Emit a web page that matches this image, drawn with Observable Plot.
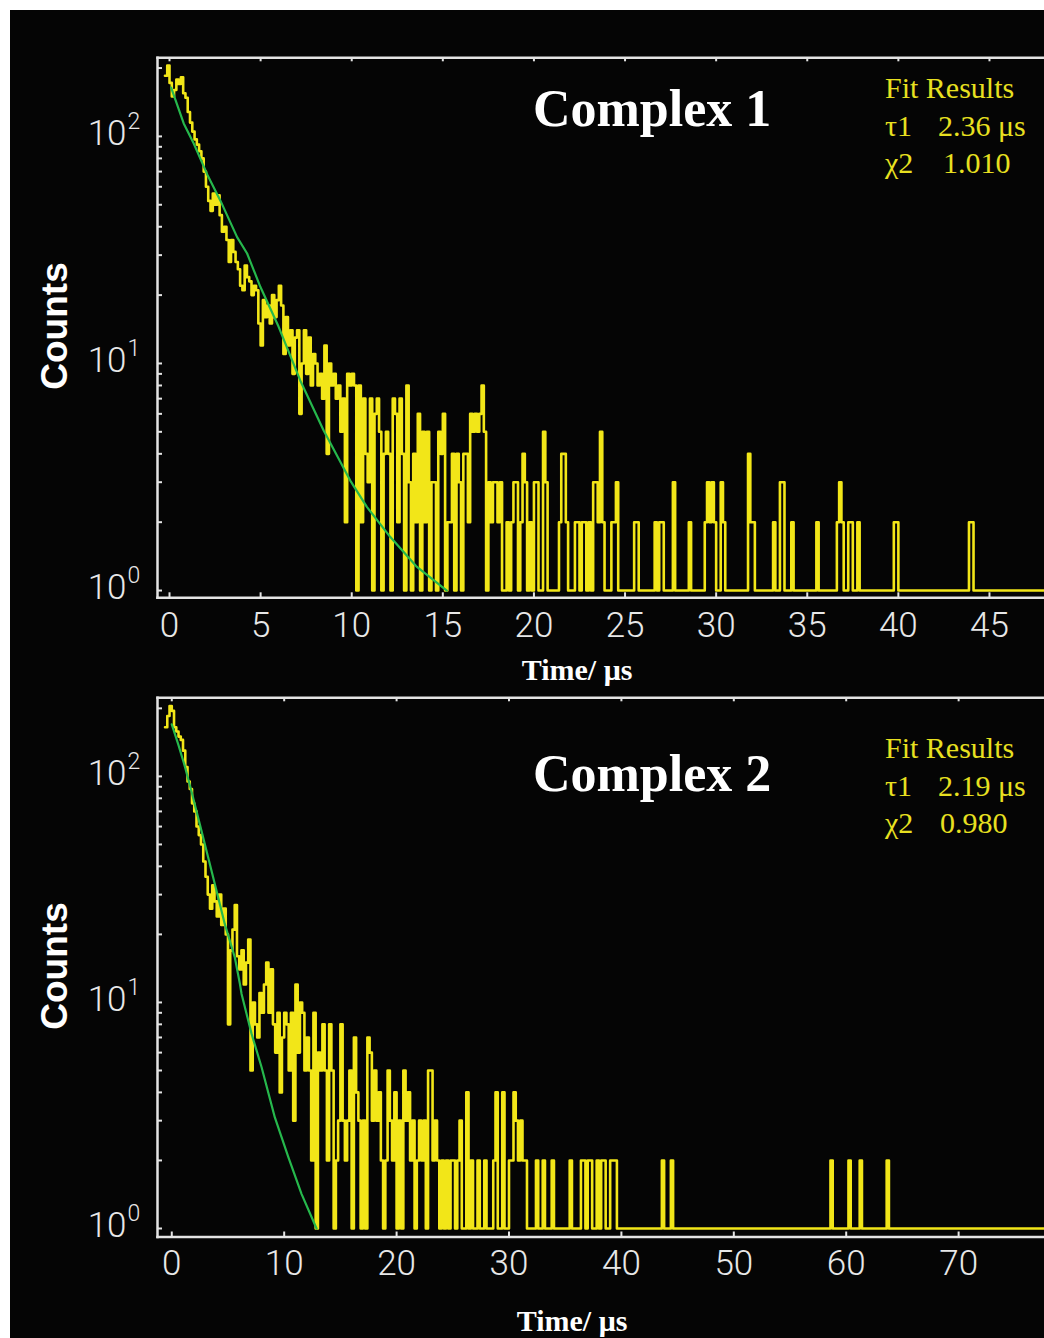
<!DOCTYPE html>
<html><head><meta charset="utf-8">
<script src="https://cdn.jsdelivr.net/npm/d3@7"></script>
<script src="https://cdn.jsdelivr.net/npm/@observablehq/plot@0.6"></script>
<style>
html,body{margin:0;padding:0;background:#fff;}
#page{position:relative;width:1044px;height:1338px;background:#fff;overflow:hidden;}
#bg{position:absolute;left:10px;top:10px;width:1034px;height:1328px;background:#050505;}
.panel{position:absolute;left:0;}
#ann{position:absolute;left:0;top:0;}
</style></head><body>
<div id="page"><div id="bg"></div><div id="p1" class="panel" style="top:0px"></div><div id="p2" class="panel" style="top:650px"></div><svg id="ann" width="1044" height="1338"></svg></div>
<script>
// ---------- Complex 1 decay histogram (counts per 0.125 µs bin, starting at -0.25 µs)
const p1Start = -0.25, p1Bin = 0.125;
const p1Early = [
  185, 205,
  172, 150, 160, 178, 170, 182, 155, 148,
  128, 115, 105, 97, 92, 86, 80, 70,
  60, 52, 47, 56, 50, 55, 45, 38,
  40, 35, 28, 35, 31, 28, 26, 22,
  21, 27, 24, 23, 20, 22, 21, 15,
  12, 19, 16, 18, 15, 20, 16, 19,
  22, 18, 11, 16, 12, 14, 9, 13,
  14, 6, 10, 14, 9, 13, 8, 11,
  10, 8, 9, 7, 12, 4, 10, 8,
  9, 7, 8, 5, 7, 2, 9, 8,
  9, 8, 1, 8, 2, 7, 4, 3,
  7, 1, 6, 7, 5, 1, 4, 5,
  4, 1, 7, 6, 2, 7, 4, 1,
  8, 3, 1, 4, 2, 6, 1, 5,
  2, 5, 1, 3, 3, 1, 5, 4,
  6, 1, 2, 2, 4, 1, 4, 3,
  1, 4, 4, 2, 6, 5, 6, 5
];
const p1Tail = [
  6, 8, 5, 1, 3, 2, 3, 3,
  2, 3, 1, 1, 2, 1, 2, 3,
  3, 1, 2, 4, 3, 1, 2, 1,
  3, 3, 1, 1, 5, 3, 1, 1,
  1, 1, 1, 2, 4, 4, 2, 1,
  1, 1, 2, 2, 1, 2, 2, 1,
  2, 1, 3, 3, 2, 5, 2, 1,
  1, 1, 2, 2, 3, 1, 1, 1,
  1, 1, 1, 1, 2, 2, 1, 1,
  1, 1, 1, 1, 1, 2, 1, 2,
  2, 1, 1, 1, 1, 3, 1, 1,
  1, 1, 1, 1, 2, 1, 1, 1,
  1, 1, 1, 2, 3, 2, 3, 2,
  1, 1, 3, 2, 1, 1, 1, 1,
  1, 1, 1, 1, 1, 1, 4, 2,
  2, 1, 1, 1, 1, 1, 1, 1,
  1, 2, 1, 1, 3, 3, 1, 1,
  1, 2, 1, 1, 1, 1, 1, 1,
  1, 1, 1, 1, 2, 1, 1, 1,
  1, 1, 1, 1, 1, 2, 3, 2,
  1, 1, 2, 2, 1, 1, 2, 1,
  1, 1, 1, 1, 1, 1, 1, 1,
  1, 1, 1, 1, 1, 1, 2, 2,
  1, 1, 1, 1, 1, 1, 1, 1,
  1, 1, 1, 1, 1, 1, 1, 1,
  1, 1, 1, 1, 1, 1, 1, 1,
  1, 1, 1, 1, 1, 1, 1, 2,
  2, 1, 1, 1, 1, 1, 1, 1,
  1, 1, 1, 1, 1, 1, 1, 1,
  1, 1, 1, 1, 1, 1, 1, 1,
  1, 1, 1, 1, 1, 1, 1, 1,
  1, 1
];
// Complex 1 fitted curve
const fit1Time   = [0.09, 0.78, 1.33, 2.07, 2.80, 3.71, 4.26, 4.99, 5.99, 7.18, 8.46, 9.92, 10.84, 12.12, 13.58, 15.22];
const fit1Counts = [164, 114, 93, 68, 52, 36, 30.5, 21.7, 14.5, 8.4, 5.07, 3.05, 2.33, 1.72, 1.27, 1.0];

// ---------- Complex 2 decay histogram (counts per 0.2 µs bin, starting at -0.6 µs)
const p2Start = -0.6, p2Bin = 0.2;
const p2Early = [
  165, 185, 205,
  195, 165, 158, 150, 145,
  130, 110, 95, 88, 76,
  70, 60, 55, 50, 42,
  36, 30, 26, 33, 28,
  24, 30, 22, 26, 20,
  8, 17, 21, 27, 16,
  14, 17, 12, 15, 19,
  5, 10, 8, 7, 11,
  9, 12, 15, 9, 14,
  8, 6, 9, 4, 7,
  9, 8, 5, 9, 3,
  12, 6, 10, 9, 5,
  7, 5, 2, 9, 1,
  6, 5, 8, 5, 2,
  8, 5, 1, 2, 3,
  8, 3, 2, 3, 5,
  1, 7, 4, 3, 1,
  3, 1, 7, 6, 3,
  5, 3, 4, 2, 1,
  2, 5, 3, 2, 4,
  1, 3, 1, 5, 3,
  4, 2, 3, 1, 2,
  3, 2, 3, 1, 5,
  5, 2, 3, 2, 1,
  2, 1, 2, 1, 2,
  2, 1, 2, 3, 1,
  1, 4, 1, 2, 1,
  1, 2, 1, 1, 2,
  1, 1, 1, 2, 4,
  1, 1, 4, 1, 1
];
const p2Tail = [
  2, 2, 4, 3, 2,
  3, 2, 2, 1, 1,
  1, 1, 2, 1, 1,
  2, 1, 1, 1, 2,
  1, 1, 1, 1, 1,
  1, 1, 2, 1, 1,
  1, 1, 2, 2, 1,
  2, 2, 1, 1, 2,
  1, 2, 2, 1, 1,
  2, 2, 2, 1, 1,
  1, 1, 1, 1, 1,
  1, 1, 1, 1, 1,
  1, 1, 1, 1, 1,
  1, 1, 1, 2, 1,
  1, 1, 2, 1, 1,
  1, 1, 1, 1, 1, 1, 1, 1, 1, 1, 1, 1, 1, 1, 1, 1, 1, 1, 1, 1, 1, 1, 1, 1, 1,
  1, 1, 1, 1, 1, 1, 1, 1, 1, 1, 1, 1, 1, 1, 1, 1, 1, 1, 1, 1, 1, 1, 1, 1, 1,
  1, 1, 1, 1, 1, 1, 1, 1, 1, 1, 1, 1, 1, 1, 1,
  1, 1, 1, 2, 1,
  1, 1, 1, 1, 1,
  1, 2, 1, 1, 1,
  1, 2, 1, 1, 1,
  1, 1, 1, 1, 1,
  1, 1, 1, 2, 1,
  1, 1, 1, 1, 1, 1, 1, 1, 1, 1, 1, 1, 1, 1, 1, 1, 1, 1, 1, 1, 1, 1, 1, 1, 1,
  1, 1, 1, 1, 1, 1, 1, 1, 1, 1, 1, 1, 1, 1, 1, 1, 1, 1, 1, 1, 1, 1, 1, 1, 1,
  1, 1, 1, 1, 1, 1, 1, 1, 1, 1, 1, 1, 1, 1, 1, 1, 1, 1, 1, 1
];
// Complex 2 fitted curve
const fit2Time   = [0.0, 0.57, 1.16, 1.75, 2.49, 3.24, 3.98, 4.72, 5.61, 6.06, 6.21, 7.10, 7.99, 9.17, 10.37, 11.55, 12.88];
const fit2Counts = [170, 139, 111, 86, 61.5, 43.8, 31.2, 22.2, 15.8, 12.1, 10.9, 7.26, 5.17, 3.1, 2.07, 1.42, 1.0];

// ---------- axes
const xTicks1 = [0, 5, 10, 15, 20, 25, 30, 35, 40, 45];
const xTicks2 = [0, 10, 20, 30, 40, 50, 60, 70];
const yMajor = [1, 10, 100];
const yExp = ["0", "1", "2"];
const yMinor = [2, 3, 4, 5, 6, 7, 8, 9, 20, 30, 40, 50, 60, 70, 80, 90, 200];

const YELLOW = "#f2e618", GREEN = "#26b84c", FRAME = "#e4e4e4", LABEL = "#e8e8e8";

function panel(o) {
  const W = 1044, ML = 157;
  const bins = o.counts.map((c, i) => ({t: o.t0 + i * o.dt, c}));
  const fit = o.fitT.map((t, i) => ({t, c: o.fitC[i]}));
  const frameH = o.height - o.marginTop - o.marginBottom;
  const frameW = W - ML;
  const tickFont = {fill: LABEL, fontSize: 35, fontFamily: "Roboto, 'DejaVu Sans', sans-serif", fontWeight: 300};
  return Plot.plot({
    width: W, height: o.height,
    marginLeft: ML, marginRight: 0, marginTop: o.marginTop, marginBottom: o.marginBottom,
    style: {background: "transparent", overflow: "visible"},
    x: {domain: o.xDomain, axis: null},
    y: {type: "log", domain: o.yDomain, axis: null},
    marks: [
      Plot.line(bins, {x: "t", y: "c", curve: "step-after", stroke: YELLOW, strokeWidth: 2.6, clip: true}),
      Plot.line(fit, {x: "t", y: "c", stroke: GREEN, strokeWidth: 2.2, clip: true}),
      Plot.frame({anchor: "top", stroke: FRAME, strokeWidth: 2.5}),
      Plot.frame({anchor: "bottom", stroke: FRAME, strokeWidth: 2.5}),
      Plot.frame({anchor: "left", stroke: FRAME, strokeWidth: 2.5}),
      Plot.tickX(o.xTicks, {x: d => d, stroke: FRAME, strokeWidth: 2, insetBottom: frameH - 4}),
      Plot.tickX(o.xTicks, {x: d => d, stroke: FRAME, strokeWidth: 2, insetTop: frameH - 5}),
      Plot.tickY(yMajor.concat(yMinor), {y: d => d, stroke: FRAME, strokeWidth: 2, insetRight: frameW - 5}),
      Plot.text(o.xTicks, {x: d => d, frameAnchor: "bottom", dy: o.labelDy, lineAnchor: "middle", text: d => String(d), ...tickFont}),
      Plot.text(yMajor, {y: d => d, frameAnchor: "left", dx: -31, dy: -3, lineAnchor: "middle", textAnchor: "end", text: () => "10", ...tickFont}),
      Plot.text(yMajor, {y: d => d, frameAnchor: "left", dx: -30, dy: -15, lineAnchor: "middle", textAnchor: "start", text: (d, i) => yExp[i], ...tickFont, fontSize: 23})
    ]
  });
}

document.getElementById("p1").appendChild(panel({
  counts: p1Early.concat(p1Tail), t0: p1Start, dt: p1Bin,
  fitT: fit1Time, fitC: fit1Counts, xTicks: xTicks1,
  xDomain: [-0.659, 48.02], yDomain: [0.929, 221.9],
  height: 650, marginTop: 57.3, marginBottom: 52.7, labelDy: 27.7
}));
document.getElementById("p2").appendChild(panel({
  counts: p2Early.concat(p2Tail), t0: p2Start, dt: p2Bin,
  fitT: fit2Time, fitC: fit2Counts, xTicks: xTicks2,
  xDomain: [-1.27, 77.64], yDomain: [0.917, 222.7],
  height: 688, marginTop: 47.3, marginBottom: 101.5, labelDy: 26.5
}));

// ---------- annotations
const ann = d3.select("#ann");
function t(x, y, s, o) {
  const e = ann.append("text").attr("x", x).attr("y", y).text(s)
    .attr("font-family", o.family || "'Liberation Serif', 'Times New Roman', serif")
    .attr("font-size", o.size).attr("fill", o.fill || "#fff");
  if (o.weight) e.attr("font-weight", o.weight);
  if (o.anchor) e.attr("text-anchor", o.anchor);
  if (o.transform) e.attr("transform", o.transform).attr("x", 0).attr("y", 0);
  return e;
}
const FIT = "#e8e020";
t(533, 126, "Complex 1", {size: 52, weight: "bold"});
t(533, 791, "Complex 2", {size: 52, weight: "bold"});
t(885, 98, "Fit Results", {size: 30, fill: FIT});
t(885, 136, "τ1", {size: 30, fill: FIT});
t(938, 136, "2.36 μs", {size: 30, fill: FIT});
t(885, 173, "χ2", {size: 30, fill: FIT});
t(943, 173, "1.010", {size: 30, fill: FIT});
t(885, 758, "Fit Results", {size: 30, fill: FIT});
t(885, 796, "τ1", {size: 30, fill: FIT});
t(938, 796, "2.19 μs", {size: 30, fill: FIT});
t(885, 833, "χ2", {size: 30, fill: FIT});
t(940, 833, "0.980", {size: 30, fill: FIT});
t(0, 0, "Counts", {size: 37, weight: "bold", family: "'Liberation Sans', Arial, sans-serif", anchor: "middle", transform: "translate(67,326) rotate(-90)"});
t(0, 0, "Counts", {size: 37, weight: "bold", family: "'Liberation Sans', Arial, sans-serif", anchor: "middle", transform: "translate(67,966) rotate(-90)"});
t(577, 680, "Time/ μs", {size: 30, weight: "bold", anchor: "middle"});
t(572, 1331, "Time/ μs", {size: 30, weight: "bold", anchor: "middle"});
</script>
</body></html>
